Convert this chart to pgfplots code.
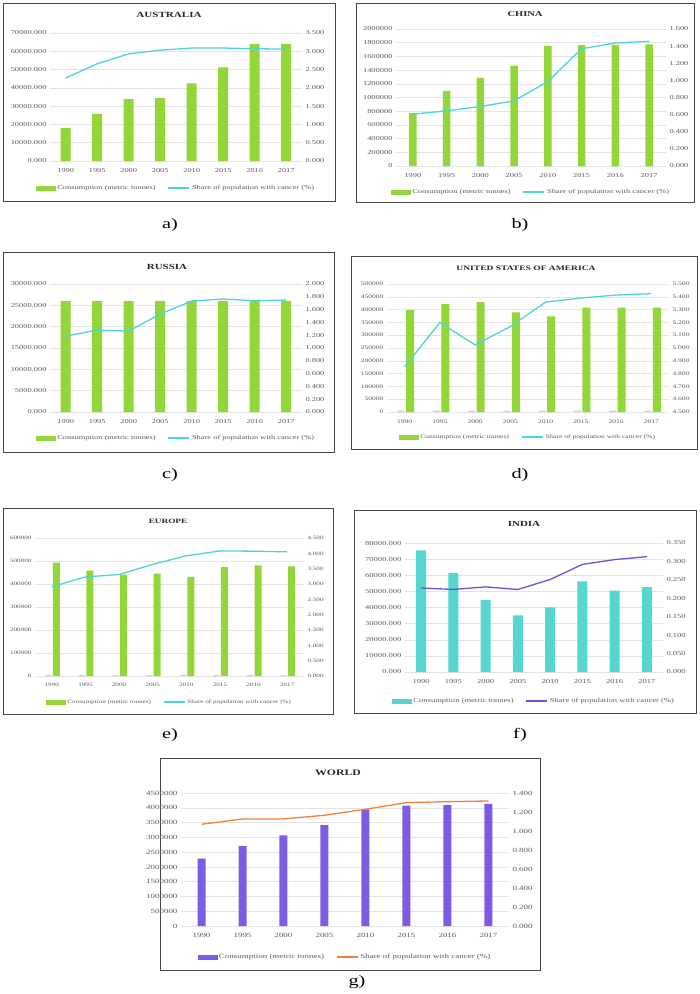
\documentclass[border=0pt]{standalone}
\usepackage{pgfplots}
\pgfplotsset{compat=1.18}
\usepackage{fontspec}
\setmainfont[FakeStretch=1.4]{Liberation Serif}
\definecolor{barg}{RGB}{146,214,58}
\definecolor{linec}{RGB}{78,212,216}
\definecolor{bart}{RGB}{86,214,206}
\definecolor{linep}{RGB}{110,80,210}
\definecolor{barp}{RGB}{124,92,226}
\definecolor{lineo}{RGB}{243,128,52}
\definecolor{tickg}{RGB}{89,89,89}
\definecolor{lblue}{RGB}{185,218,236}
\definecolor{framec}{RGB}{70,70,70}
\pgfplotsset{
 common/.style={scale only axis, xmin=-0.5, xmax=7.5, axis line style={draw=none},
   tick style={draw=none}, ticklabel style={text=tickg},
   scaled y ticks=false, /pgf/number format/assume math mode=true},
 fs/.style={ticklabel style={font=\fontsize{#1}{#1}\selectfont},
   legend style={font=\fontsize{#1}{#1}\selectfont}},
 leftax/.style={common, xtick={0,...,7}, xticklabels={1990,1995,2000,2005,2010,2015,2016,2017},
   ymajorgrids, grid style={draw=gray!22, line width=0.5pt}, xticklabel style={yshift=-4pt}},
 rightax/.style={common, axis y line*=right, hide x axis},
 dec3/.style={yticklabel={\pgfmathprintnumber[fixed,zerofill,precision=3,1000 sep={},assume math mode=true]{\tick}}},
 int0/.style={yticklabel={\pgfmathprintnumber[fixed,precision=0,1000 sep={},assume math mode=true]{\tick}}},
 leg/.style={legend style={draw=none, fill=none, legend columns=2,
   text=tickg, /tikz/every even column/.append style={column sep=10pt}, at={(0.5,0)}, anchor=center, yshift=-#1}},
 lineleg/.style={legend image code/.code={\draw (0pt,0pt) -- (21pt,0pt);}},
}
\newcommand{\barleg}[1]{\addlegendimage{legend image code/.code={\fill[#1] (0pt,-2.2pt) rectangle (19pt,2.2pt);}}}
\begin{document}
\begin{tikzpicture}
\path (0pt,0pt) rectangle (700pt,-994pt);
% frames
\draw[framec, line width=0.9pt] (3pt,-3pt) rectangle (335pt,-201pt);
\draw[framec, line width=0.9pt] (356pt,-3pt) rectangle (694pt,-202pt);
\draw[framec, line width=0.9pt] (3pt,-252pt) rectangle (334pt,-452pt);
\draw[framec, line width=0.9pt] (351pt,-256pt) rectangle (697pt,-449pt);
\draw[framec, line width=0.9pt] (3pt,-508pt) rectangle (333pt,-714pt);
\draw[framec, line width=0.9pt] (354pt,-510pt) rectangle (696pt,-713pt);
\draw[framec, line width=0.9pt] (160pt,-758pt) rectangle (540pt,-970pt);
% titles
\tikzset{ttl/.style={font=\fontsize{#1}{#1}\selectfont\bfseries, text=black!85}}
\node[ttl=7.9] at (169pt,-15pt) {AUSTRALIA};
\node[ttl=7.5] at (525pt,-14pt) {CHINA};
\node[ttl=7.8] at (167pt,-267pt) {RUSSIA};
\node[ttl=6.8] at (526pt,-268pt) {UNITED STATES OF AMERICA};
\node[ttl=6.6] at (168pt,-521pt) {EUROPE};
\node[ttl=7.8] at (524pt,-524pt) {INDIA};
\node[ttl=8.4] at (338pt,-773pt) {WORLD};
% captions
\tikzset{capt/.style={font=\fontsize{14.5}{15}\selectfont}}
\node[capt] at (170pt,-225pt) {a)};
\node[capt] at (520pt,-225pt) {b)};
\node[capt] at (170pt,-475pt) {c)};
\node[capt] at (520pt,-475pt) {d)};
\node[capt] at (170pt,-735pt) {e)};
\node[capt] at (520pt,-735pt) {f)};
\node[capt] at (357pt,-982pt) {g)};

% ===== a) AUSTRALIA =====
\begin{axis}[leftax, fs=6, dec3, at={(50pt,-161pt)}, anchor=south west, width=252pt, height=128pt,
  ymin=0, ymax=70000, ytick={0,10000,...,70000}]
\addplot[ybar, bar shift=0pt, bar width=10pt, fill=barg, draw=none] coordinates
 {(0,18100) (1,25800) (2,33800) (3,34400) (4,42400) (5,51200) (6,64000) (7,64000)};
\end{axis}
\begin{axis}[rightax, fs=6, dec3, leg=27pt, at={(50pt,-161pt)}, anchor=south west, width=252pt, height=128pt,
  ymin=0, ymax=3.5, ytick={0,0.5,...,3.5}]
\barleg{barg}\addlegendentry{Consumption (metric tonnes)}
\addplot[linec, line width=1.3pt, lineleg] coordinates
 {(0,2.27) (1,2.66) (2,2.93) (3,3.03) (4,3.09) (5,3.09) (6,3.07) (7,3.06)};
\addlegendentry{Share of population with cancer (\%)}
\end{axis}

% ===== b) CHINA =====
\begin{axis}[leftax, fs=6, int0, at={(396pt,-166pt)}, anchor=south west, width=270pt, height=137pt,
  ymin=0, ymax=2000000, ytick={0,200000,...,2000000}]
\addplot[ybar, bar shift=0pt, bar width=7.5pt, fill=barg, draw=none] coordinates
 {(0,771000) (1,1095000) (2,1285000) (3,1465000) (4,1755000) (5,1765000) (6,1770000) (7,1775000)};
\end{axis}
\begin{axis}[rightax, fs=6, dec3, leg=26pt, at={(396pt,-166pt)}, anchor=south west, width=270pt, height=137pt,
  ymin=0, ymax=1.6, ytick={0,0.2,...,1.6}]
\barleg{barg}\addlegendentry{Consumption (metric tonnes)}
\addplot[linec, line width=1.3pt, lineleg] coordinates
 {(0,0.605) (1,0.644) (2,0.695) (3,0.761) (4,0.987) (5,1.37) (6,1.436) (7,1.456)};
\addlegendentry{Share of population with cancer (\%)}
\end{axis}

% ===== c) RUSSIA =====
\begin{axis}[leftax, fs=6, dec3, at={(50pt,-412pt)}, anchor=south west, width=252pt, height=128pt,
  ymin=0, ymax=30000, ytick={0,5000,...,30000}]
\addplot[ybar, bar shift=0pt, bar width=10pt, fill=barg, draw=none] coordinates
 {(0,26000) (1,26000) (2,26000) (3,26000) (4,26000) (5,26000) (6,26000) (7,26000)};
\end{axis}
\begin{axis}[rightax, fs=6, dec3, leg=26pt, at={(50pt,-412pt)}, anchor=south west, width=252pt, height=128pt,
  ymin=0, ymax=2, ytick={0,0.2,...,2.01}]
\barleg{barg}\addlegendentry{Consumption (metric tonnes)}
\addplot[linec, line width=1.3pt, lineleg] coordinates
 {(0,1.185) (1,1.28) (2,1.264) (3,1.53) (4,1.734) (5,1.765) (6,1.739) (7,1.749)};
\addlegendentry{Share of population with cancer (\%)}
\end{axis}

% ===== d) USA =====
\begin{axis}[leftax, fs=5.4, int0, at={(387pt,-412pt)}, anchor=south west, width=282pt, height=128pt,
  ymin=0, ymax=500000, ytick={0,50000,...,500000}]
\addplot[ybar, bar shift=-3.5pt, bar width=7pt, fill=lblue, draw=none] coordinates
 {(0,5000) (1,5000) (2,5000) (3,5000) (4,5000) (5,5000) (6,5000) (7,5000)};
\addplot[ybar, bar shift=5.5pt, bar width=8pt, fill=barg, draw=none] coordinates
 {(0,399000) (1,421000) (2,429000) (3,389000) (4,374000) (5,408000) (6,408000) (7,408000)};
\end{axis}
\begin{axis}[rightax, fs=5.4, dec3, leg=25pt, at={(387pt,-412pt)}, anchor=south west, width=282pt, height=128pt,
  ymin=4.5, ymax=5.5, ytick={4.5,4.6,...,5.51}]
\barleg{barg}\addlegendentry{Consumption (metric tonnes)}
\addplot[linec, line width=1.3pt, lineleg] coordinates
 {(0,4.853) (1,5.199) (2,5.024) (3,5.168) (4,5.359) (5,5.39) (6,5.414) (7,5.424)};
\addlegendentry{Share of population with cancer (\%)}
\end{axis}

% ===== e) EUROPE =====
\begin{axis}[leftax, fs=5.1, int0, at={(35pt,-676pt)}, anchor=south west, width=269pt, height=138pt,
  ymin=0, ymax=600000, ytick={0,100000,...,600000}]
\addplot[ybar, bar shift=-3.5pt, bar width=6pt, fill=lblue, draw=none] coordinates
 {(0,5000) (1,5000) (2,5000) (3,5000) (4,5000) (5,5000) (6,5000) (7,5000)};
\addplot[ybar, bar shift=4.5pt, bar width=7pt, fill=barg, draw=none] coordinates
 {(0,493000) (1,458000) (2,441000) (3,445000) (4,431000) (5,473000) (6,481000) (7,477000)};
\end{axis}
\begin{axis}[rightax, fs=5.1, dec3, leg=26pt, at={(35pt,-676pt)}, anchor=south west, width=269pt, height=138pt,
  ymin=0, ymax=4.5, ytick={0,0.5,...,4.5}]
\barleg{barg}\addlegendentry{Consumption (metric tonnes)}
\addplot[linec, line width=1.3pt, lineleg] coordinates
 {(0,2.91) (1,3.23) (2,3.31) (3,3.64) (4,3.92) (5,4.08) (6,4.07) (7,4.05)};
\addlegendentry{Share of population with cancer (\%)}
\end{axis}

% ===== f) INDIA =====
\begin{axis}[leftax, fs=6.1, dec3, at={(405pt,-672pt)}, anchor=south west, width=258pt, height=129pt,
  ymin=0, ymax=80000, ytick={0,10000,...,80000}]
\addplot[ybar, bar shift=0pt, bar width=10pt, fill=bart, draw=none] coordinates
 {(0,75400) (1,61400) (2,44800) (3,35100) (4,40100) (5,56200) (6,50400) (7,52700)};
\end{axis}
\begin{axis}[rightax, fs=6.1, dec3, leg=29pt, at={(405pt,-672pt)}, anchor=south west, width=258pt, height=129pt,
  ymin=0, ymax=0.35, ytick={0,0.05,...,0.351}]
\barleg{bart}\addlegendentry{Consumption (metric tonnes)}
\addplot[linep, line width=1.3pt, lineleg] coordinates
 {(0,0.228) (1,0.224) (2,0.231) (3,0.224) (4,0.251) (5,0.292) (6,0.305) (7,0.313)};
\addlegendentry{Share of population with cancer (\%)}
\end{axis}

% ===== g) WORLD =====
\begin{axis}[leftax, fs=6.4, int0, at={(181pt,-926pt)}, anchor=south west, width=328pt, height=133pt,
  ymin=0, ymax=4500000, ytick={0,500000,...,4500000}]
\addplot[ybar, bar shift=0pt, bar width=8pt, fill=barp, draw=none] coordinates
 {(0,2280000) (1,2700000) (2,3070000) (3,3410000) (4,3950000) (5,4070000) (6,4090000) (7,4130000)};
\end{axis}
\begin{axis}[rightax, fs=6.4, dec3, leg=31pt, at={(181pt,-926pt)}, anchor=south west, width=328pt, height=133pt,
  ymin=0, ymax=1.4, ytick={0,0.2,...,1.41}]
\barleg{barp}\addlegendentry{Consumption (metric tonnes)}
\addplot[lineo, line width=1.3pt, lineleg] coordinates
 {(0,1.071) (1,1.127) (2,1.127) (3,1.166) (4,1.229) (5,1.299) (6,1.309) (7,1.316)};
\addlegendentry{Share of population with cancer (\%)}
\end{axis}
\end{tikzpicture}
\end{document}
